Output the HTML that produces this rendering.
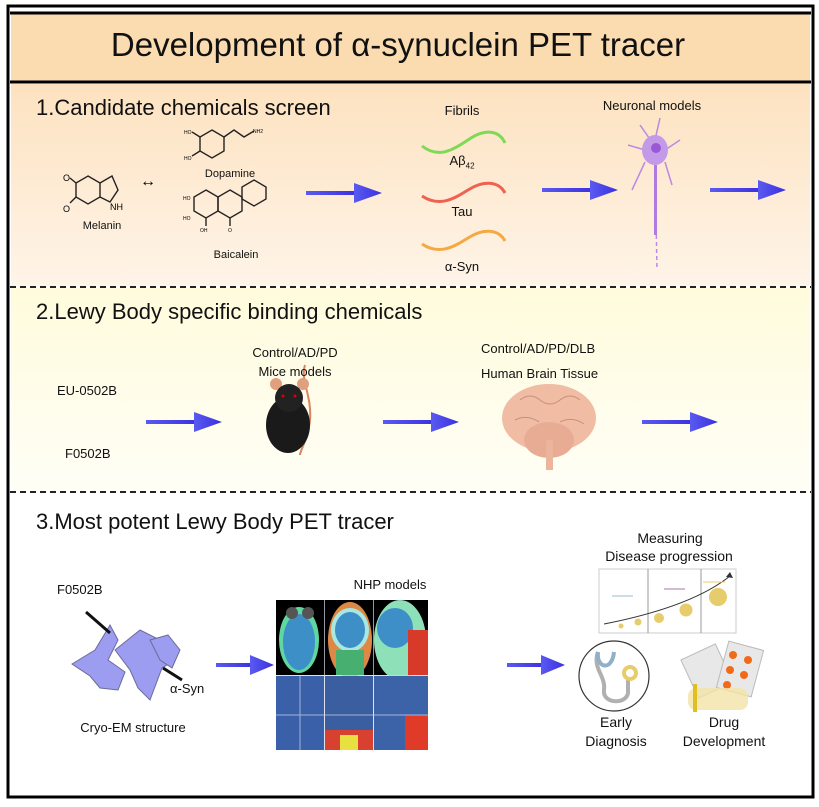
<!DOCTYPE html>
<html><head><meta charset="utf-8"><style>
*{margin:0;padding:0}
body{width:819px;height:807px;background:#fff;position:relative;overflow:hidden;font-family:"Liberation Sans",Arial,sans-serif;color:#111}
.t{position:absolute;white-space:nowrap}
.c{transform:translateX(-50%)}
.h{font-size:22px;left:36px}
</style></head><body>
<svg width="819" height="807" style="position:absolute;left:0;top:0">
<defs>
<linearGradient id="g1" x1="0" y1="0" x2="0" y2="1"><stop offset="0" stop-color="#fde2c0"/><stop offset="1" stop-color="#fef4e8"/></linearGradient>
<linearGradient id="g2" x1="0" y1="0" x2="0" y2="1"><stop offset="0" stop-color="#fffbdc"/><stop offset="1" stop-color="#fffef6"/></linearGradient>
<linearGradient id="ar" x1="0" y1="0" x2="1" y2="0"><stop offset="0" stop-color="#5a5af0"/><stop offset="1" stop-color="#3b2fe0"/></linearGradient>
<g id="arrow"><rect x="0" y="-2" width="52" height="4" fill="url(#ar)"/><polygon points="48,-10 76,0 48,10" fill="url(#ar)"/></g>
<g id="arrow2"><rect x="0" y="-2" width="38" height="4" fill="url(#ar)"/><polygon points="34,-10 58,0 34,10" fill="url(#ar)"/></g>
</defs>
<rect x="8" y="6" width="805" height="791" fill="#fff" stroke="#000" stroke-width="3"/>
<rect x="11" y="13" width="799" height="69" fill="#fbdcb0"/>
<line x1="10" y1="13" x2="811" y2="13" stroke="#000" stroke-width="3"/>
<line x1="10" y1="82" x2="811" y2="82" stroke="#000" stroke-width="3"/>
<rect x="11" y="84" width="799" height="202" fill="url(#g1)"/>
<rect x="11" y="288" width="799" height="203" fill="url(#g2)"/>
<line x1="10" y1="287" x2="811" y2="287" stroke="#222" stroke-width="2" stroke-dasharray="6,4"/>
<line x1="10" y1="492" x2="811" y2="492" stroke="#222" stroke-width="2" stroke-dasharray="6,4"/>
<g stroke="#222" stroke-width="1.4" fill="none">
<polygon points="88,176 100,183 100,197 88,204 76,197 76,183"/>
<polyline points="100,183 112,176 118,190 110,202 100,197"/>
<line x1="76" y1="183" x2="70" y2="178"/><line x1="76" y1="197" x2="70" y2="203"/>
<polygon points="212,130 224,137 224,151 212,158 200,151 200,137"/>
<polyline points="224,137 234,130 244,137 254,131"/>
<line x1="200" y1="137" x2="192" y2="132"/><line x1="200" y1="151" x2="192" y2="156"/>
<polygon points="206,190 218,197 218,211 206,218 194,211 194,197"/>
<polygon points="230,190 242,197 242,211 230,218 218,211 218,197"/>
<polygon points="254,180 266,187 266,199 254,206 242,199 242,187"/>
<line x1="230" y1="218" x2="230" y2="226"/><line x1="206" y1="218" x2="206" y2="226"/>
</g>
<text x="63" y="181" font-size="9" font-family="Liberation Sans">O</text>
<text x="63" y="212" font-size="9" font-family="Liberation Sans">O</text>
<text x="110" y="210" font-size="9" font-family="Liberation Sans">NH</text>
<text x="184" y="134" font-size="5">HO</text><text x="184" y="160" font-size="5">HO</text><text x="253" y="133" font-size="5">NH2</text>
<text x="183" y="200" font-size="5">HO</text><text x="183" y="220" font-size="5">HO</text><text x="200" y="232" font-size="5">OH</text><text x="228" y="232" font-size="5">O</text>
<text x="140" y="186" font-size="16" font-weight="bold">↔</text>
<path d="M422,146 C440,160 455,148 468,140 C482,130 498,128 505,143" stroke="#7ed957" stroke-width="3" fill="none"/>
<path d="M422,196 C440,208 455,198 468,190 C482,181 498,180 505,193" stroke="#ef6150" stroke-width="3" fill="none"/>
<path d="M422,244 C440,256 455,246 468,238 C482,229 498,228 505,241" stroke="#f4a943" stroke-width="3" fill="none"/>
<g stroke="#b98ae0" stroke-width="1.5" fill="none">
<line x1="654" y1="145" x2="640" y2="125"/><line x1="655" y1="140" x2="660" y2="118"/><line x1="665" y1="150" x2="680" y2="140"/><line x1="645" y1="150" x2="628" y2="145"/><line x1="645" y1="162" x2="632" y2="190"/><line x1="665" y1="162" x2="672" y2="185"/>
<line x1="655" y1="165" x2="657" y2="270" stroke-dasharray="4,3"/>
</g>
<rect x="654" y="165" width="3" height="70" fill="#b07ae0"/>
<ellipse cx="655" cy="150" rx="13" ry="15" fill="#c39ae8"/>
<circle cx="656" cy="148" r="5" fill="#9a58d6"/>
<use href="#arrow" x="306" y="193"/>
<use href="#arrow" x="542" y="190"/>
<use href="#arrow" x="710" y="190"/>
<use href="#arrow" x="146" y="422"/>
<use href="#arrow" x="383" y="422"/>
<use href="#arrow" x="642" y="422"/>
<use href="#arrow2" x="216" y="665"/>
<use href="#arrow2" x="507" y="665"/>
<path d="M305,365 C300,380 312,395 310,420 C308,440 300,450 300,455" stroke="#d88560" stroke-width="2" fill="none"/>
<ellipse cx="288" cy="425" rx="22" ry="28" fill="#1a1a1a"/>
<circle cx="276" cy="384" r="6" fill="#e0a080"/><circle cx="303" cy="384" r="6" fill="#e0a080"/>
<ellipse cx="289" cy="398" rx="14" ry="14" fill="#222"/>
<circle cx="283" cy="396" r="1.5" fill="#d00"/><circle cx="295" cy="396" r="1.5" fill="#d00"/>
<ellipse cx="549" cy="418" rx="47" ry="34" fill="#f0bca4"/>
<ellipse cx="549" cy="440" rx="25" ry="18" fill="#e8ac94"/>
<rect x="546" y="440" width="7" height="30" fill="#ecb49c"/>
<path d="M520,400 q10,-8 20,0 q10,8 20,0 q10,-8 20,0 M515,420 q12,-6 24,2 M560,422 q12,-6 24,2" stroke="#c98f7a" fill="none"/>
<g fill="#9c9cf0" stroke="#6b6b9a" stroke-width="1">
<path d="M72,664 L95,650 L110,625 L118,640 L108,660 L125,672 L118,690 L100,688 L90,676 Z"/>
<path d="M115,650 L140,630 L160,640 L175,660 L162,668 L150,700 L138,688 L130,670 Z"/>
<path d="M150,640 L168,635 L180,650 L172,668 L160,660 Z"/>
</g>
<line x1="86" y1="612" x2="110" y2="633" stroke="#111" stroke-width="3"/>
<line x1="163" y1="668" x2="182" y2="680" stroke="#111" stroke-width="3"/>
<rect x="276" y="600" width="152" height="75" fill="#000"/>
<ellipse cx="299" cy="640" rx="20" ry="33" fill="#5fd7a0"/><ellipse cx="299" cy="642" rx="16" ry="28" fill="#3d8fc8"/>
<circle cx="292" cy="613" r="6" fill="#555"/><circle cx="308" cy="613" r="6" fill="#555"/>
<ellipse cx="350" cy="640" rx="22" ry="38" fill="#d84"/><ellipse cx="350" cy="630" rx="19" ry="22" fill="#a8e8e0"/><ellipse cx="350" cy="630" rx="15" ry="18" fill="#3e8fc8"/><rect x="336" y="650" width="28" height="25" fill="#47b070"/>
<ellipse cx="400" cy="640" rx="26" ry="40" fill="#8de0b8"/><ellipse cx="395" cy="628" rx="18" ry="20" fill="#3e8fc8"/><rect x="408" y="630" width="20" height="45" fill="#d83a2a"/>
<rect x="276" y="676" width="48" height="74" fill="#3960a8"/>
<rect x="325" y="676" width="48" height="74" fill="#3a5ea0"/><rect x="325" y="730" width="48" height="20" fill="#d84030"/><rect x="340" y="735" width="18" height="15" fill="#e8e040"/>
<rect x="374" y="676" width="54" height="74" fill="#3c62a8"/><rect x="405" y="715" width="23" height="35" fill="#e03a28"/>
<g stroke="#cfd8e8" stroke-width="1" opacity="0.7"><line x1="300" y1="676" x2="300" y2="750"/><line x1="276" y1="715" x2="428" y2="715"/><line x1="324.5" y1="600" x2="324.5" y2="750"/><line x1="373.5" y1="600" x2="373.5" y2="750"/><line x1="276" y1="675.5" x2="428" y2="675.5"/></g>
<rect x="599" y="569" width="137" height="64" fill="#fff" stroke="#ccc"/>
<line x1="648" y1="569" x2="648" y2="633" stroke="#999"/><line x1="701" y1="569" x2="701" y2="633" stroke="#999"/>
<path d="M604,624 C650,615 700,600 730,576" stroke="#333" fill="none"/><polygon points="730,572 733,578 726,577" fill="#333"/>
<g fill="#e6cc6a"><circle cx="621" cy="626" r="2.5"/><circle cx="638" cy="622" r="3.5"/><circle cx="659" cy="618" r="5"/><circle cx="686" cy="610" r="6.5"/><circle cx="718" cy="597" r="9"/></g>
<line x1="612" y1="596" x2="633" y2="596" stroke="#9bc"/><line x1="664" y1="589" x2="685" y2="589" stroke="#a7a"/><line x1="703" y1="582" x2="725" y2="582" stroke="#ec6"/>
<circle cx="614" cy="676" r="35" fill="#fff" stroke="#333" stroke-width="1.2"/>
<path d="M598,652 C592,668 606,676 604,690 C602,705 630,705 628,690 L628,680" stroke="#b0b0b0" stroke-width="4" fill="none"/>
<path d="M598,652 C596,668 612,672 614,652" stroke="#8fb0c8" stroke-width="4" fill="none"/>
<circle cx="630" cy="673" r="6" fill="none" stroke="#e6cc6a" stroke-width="4"/>
<rect x="688" y="650" width="38" height="42" fill="#e8e8e8" stroke="#bbb" transform="rotate(-25 707 671)"/>
<rect x="722" y="645" width="36" height="48" fill="#e8e8e8" stroke="#bbb" transform="rotate(15 740 669)"/>
<g fill="#f06a1a"><circle cx="733" cy="655" r="4"/><circle cx="748" cy="660" r="4"/><circle cx="730" cy="670" r="4"/><circle cx="744" cy="675" r="4"/><circle cx="727" cy="685" r="4"/></g>
<rect x="688" y="688" width="60" height="22" rx="8" fill="#f2e2a8" opacity="0.8"/>
<rect x="693" y="684" width="4" height="28" fill="#e0c020"/>
</svg>
<div class="t c" style="left:398px;top:26px;font-size:33px">Development of α-synuclein PET tracer</div>
<div class="t h" style="top:95px">1.Candidate chemicals screen</div>
<div class="t c" style="left:102px;top:220px;font-size:11px">Melanin</div>
<div class="t c" style="left:230px;top:168px;font-size:11px">Dopamine</div>
<div class="t c" style="left:236px;top:249px;font-size:11px">Baicalein</div>
<div class="t c" style="left:462px;top:103px;font-size:13px">Fibrils</div>
<div class="t c" style="left:462px;top:153px;font-size:13px">Aβ<sub style="font-size:8px">42</sub></div>
<div class="t c" style="left:462px;top:204px;font-size:13px">Tau</div>
<div class="t c" style="left:462px;top:259px;font-size:13px">α-Syn</div>
<div class="t c" style="left:652px;top:98px;font-size:13px">Neuronal models</div>
<div class="t h" style="top:299px">2.Lewy Body specific binding chemicals</div>
<div class="t" style="left:57px;top:383px;font-size:13px">EU-0502B</div>
<div class="t" style="left:65px;top:446px;font-size:13px">F0502B</div>
<div class="t c" style="left:295px;top:345px;font-size:13px">Control/AD/PD</div>
<div class="t c" style="left:295px;top:364px;font-size:13px">Mice models</div>
<div class="t" style="left:481px;top:341px;font-size:13px">Control/AD/PD/DLB</div>
<div class="t" style="left:481px;top:366px;font-size:13px">Human Brain Tissue</div>
<div class="t h" style="top:509px">3.Most potent Lewy Body PET tracer</div>
<div class="t c" style="left:670px;top:530px;font-size:14px">Measuring</div>
<div class="t c" style="left:669px;top:548px;font-size:14px">Disease progression</div>
<div class="t" style="left:57px;top:582px;font-size:13px">F0502B</div>
<div class="t c" style="left:390px;top:577px;font-size:13px">NHP models</div>
<div class="t" style="left:170px;top:681px;font-size:13px">α-Syn</div>
<div class="t c" style="left:133px;top:720px;font-size:13px">Cryo-EM structure</div>
<div class="t c" style="left:616px;top:714px;font-size:14px">Early</div>
<div class="t c" style="left:616px;top:733px;font-size:14px">Diagnosis</div>
<div class="t c" style="left:724px;top:714px;font-size:14px">Drug</div>
<div class="t c" style="left:724px;top:733px;font-size:14px">Development</div>
</body></html>
